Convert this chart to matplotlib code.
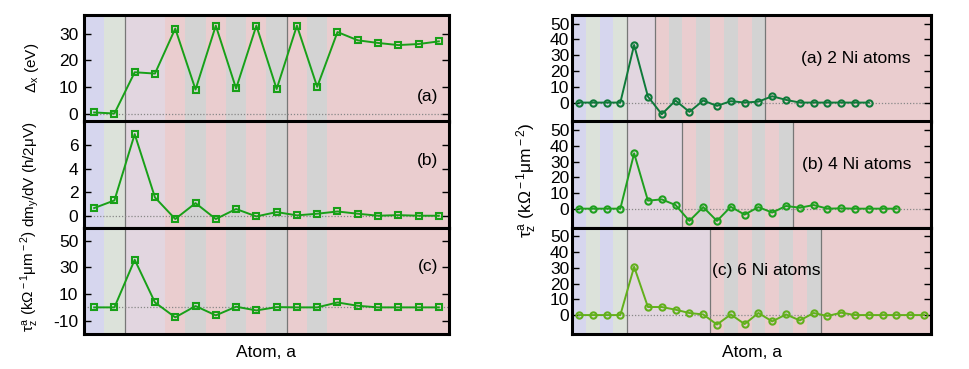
import matplotlib
matplotlib.use("Agg")
import matplotlib.pyplot as plt

plt.rcParams["font.family"] = ["Liberation Sans", "DejaVu Sans"]
plt.rcParams["font.size"] = 12
plt.rcParams["mathtext.fontset"] = "custom"
plt.rcParams["mathtext.rm"] = "Liberation Sans"
plt.rcParams["mathtext.it"] = "Liberation Sans"
plt.rcParams["axes.unicode_minus"] = False

# ---- left figure data (18 atoms) ----
delta_x = [0.4, 0.0, 15.5, 15.0, 31.9, 9.0, 33.0, 9.4, 33.0, 9.2, 33.0, 10.0,
           30.6, 27.5, 26.5, 25.7, 26.1, 27.1]
dmy_dv = [0.65, 1.3, 6.93, 1.55, -0.28, 1.07, -0.28, 0.57, -0.06, 0.31, 0.03,
          0.17, 0.36, 0.17, 0.0, 0.05, 0.0, 0.0]
tau_left = [0.0, 0.0, 35.8, 3.7, -7.5, 1.0, -6.0, 0.5, -2.3, 0.2, 0.0, 0.0,
            3.7, 1.2, 0.0, 0.0, 0.0, 0.0]
left_strips = ["B", "G", "M", "M", "P", "K", "P", "K", "P", "K", "P", "K",
               "P", "P", "P", "P", "P", "P"]
left_lines = [1.5, 9.5]

# ---- right figure data ----
tau_2ni = [0, 0, 0, 0, 36.5, 3.8, -7.4, 1.3, -5.9, 1.3, -2.1, 0.9, 0.0, 0.6,
           4.0, 1.7, 0, 0, 0, 0, 0, 0]
tau_4ni = [0, 0, 0, 0, 35.2, 5.1, 5.9, 2.3, -7.8, 1.0, -7.8, 1.2, -3.8, 1.0,
           -2.5, 1.7, 0.6, 2.3, 0, 0.2, 0, 0, 0, 0]
tau_6ni = [0, 0, 0, 0, 30.6, 5.1, 5.1, 3.4, 1.3, 0.4, -6.0, 0.4, -5.7, 1.3,
           -4.0, 0.4, -3.4, 1.3, -0.6, 1.5, 0, 0, 0, 0, 0, 0]
right_strips = [
    ["B", "G", "B", "G", "M", "M"] + ["P", "K"] * 4 + ["P"] * 12,
    ["B", "G", "B", "G"] + ["M"] * 4 + ["P", "K"] * 4 + ["P"] * 10,
    ["B", "G", "B", "G"] + ["M"] * 6 + ["P", "K"] * 4 + ["P"] * 8,
]
right_lines = [[3.5, 5.5, 13.5], [3.5, 7.5, 15.5], [3.5, 9.5, 17.5]]
right_names = ["(a) 2 Ni atoms", "(b) 4 Ni atoms", "(c) 6 Ni atoms"]
right_colors = ["#0f7a3a", "#1fa01f", "#62b01c"]

strip_colors = {"B": "#d6d6ee", "G": "#dce2da", "M": "#e2d6e0",
                "P": "#eacdcf", "K": "#d3d3d3"}

W, H = 970, 369
fig = plt.figure(figsize=(9.7, 3.69), dpi=100)


def px_axes(x0, y0, x1, y1):
    return fig.add_axes([x0 / W, 1 - y1 / H, (x1 - x0) / W, (y1 - y0) / H])


def decorate(ax, n, strips, lines, ylim, yticks):
    for i, s in enumerate(strips):
        ax.axvspan(i - 0.5, i + 0.5, color=strip_colors[s], lw=0, zorder=0)
    for xl in lines:
        ax.axvline(xl, color="#777777", lw=0.9, zorder=1)
    ax.axhline(0, color="#888888", lw=0.9, ls=(0, (1, 1.5)), zorder=1)
    ax.set_xlim(-0.5, n - 0.5)
    ax.set_ylim(*ylim)
    ax.set_yticks(yticks)
    ax.set_xticks([])
    ax.tick_params(axis="y", direction="in", length=5, width=1,
                   right=True, left=True, pad=4, labelsize=12.5)
    for sp in ax.spines.values():
        sp.set_linewidth(2.2)


# left figure
lx0, lx1 = 84, 449
ybounds = [15, 121.5, 227.5, 334]
left_series = [delta_x, dmy_dv, tau_left]
left_ylims = [(-3, 37), (-1, 8), (-20, 60)]
left_ticks = [[0, 10, 20, 30], [0, 2, 4, 6], [-10, 10, 30, 50]]
left_labels = [r"$\Delta_{\rm x}$ (eV)", r"dm$_{\rm y}$/dV (h/2$\mu$V)",
               r"$\tau_{\rm z}^{\rm a}$ (k$\Omega^{\rm -1}\mu$m$^{\rm -2}$)"]
left_tags = ["(a)", "(b)", "(c)"]
left_tag_y = [97, 160, 267]
for k in range(3):
    ax = px_axes(lx0, ybounds[k], lx1, ybounds[k + 1])
    n = len(left_series[k])
    decorate(ax, n, left_strips, left_lines, left_ylims[k], left_ticks[k])
    ax.plot(range(n), left_series[k], color="#18a018", lw=1.4, marker="s",
            ms=5, mfc="none", mew=1.5, zorder=3)
    ax.set_ylabel(left_labels[k], fontsize=11)
    ax.yaxis.set_label_coords(-0.118, 0.5)
    ax.text(438 / W, 1 - left_tag_y[k] / H, left_tags[k],
            transform=fig.transFigure, ha="right", va="center", fontsize=12.5)
    if k == 2:
        ax.set_xlabel("Atom, a", fontsize=12.5, labelpad=8)

# right figure
rx0, rx1 = 572, 931
right_series = [tau_2ni, tau_4ni, tau_6ni]
right_tag_pos = [(911, 59, "right"), (911, 165, "right"), (712, 270, "left")]
for k in range(3):
    ax = px_axes(rx0, ybounds[k], rx1, ybounds[k + 1])
    decorate(ax, 26, right_strips[k], right_lines[k], (-12, 55.5),
             [0, 10, 20, 30, 40, 50])
    data = right_series[k]
    ax.plot(range(len(data)), data, color=right_colors[k], lw=1.4, marker="o",
            ms=4.5, mfc="none", mew=1.5, zorder=3)
    ax.tick_params(axis="y", pad=2)
    tx, ty, ha = right_tag_pos[k]
    ax.text(tx / W, 1 - ty / H, right_names[k], transform=fig.transFigure,
            ha=ha, va="center", fontsize=12.5)
    if k == 2:
        ax.set_xlabel("Atom, a", fontsize=12.5, labelpad=8)

fig.text(527 / W, 1 - 180 / H,
         r"$\tau_{\rm z}^{\rm a}$ (k$\Omega^{\rm -1}\mu$m$^{\rm -2}$)",
         rotation=90, ha="center", va="center", fontsize=12.5)

fig.savefig("out.png", dpi=100)
